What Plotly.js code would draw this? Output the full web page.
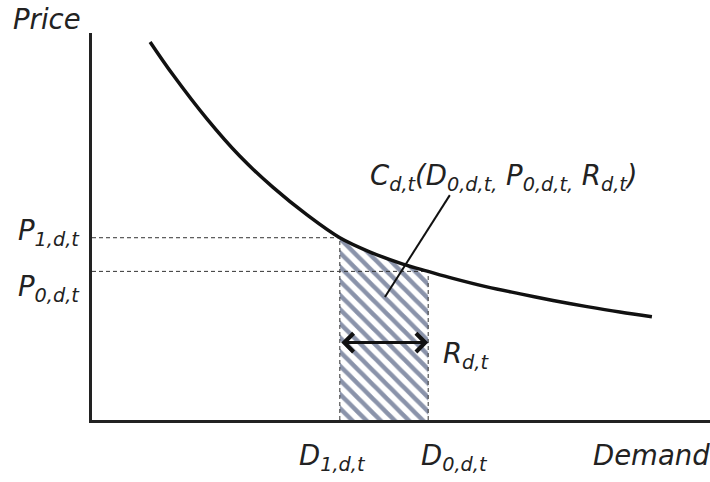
<!DOCTYPE html>
<html>
<head>
<meta charset="utf-8">
<script src="https://cdn.plot.ly/plotly-3.0.1.min.js"></script>
<style>
  html, body { margin: 0; padding: 0; background: #fff; }
  #chart { width: 710px; height: 482px; }
</style>
</head>
<body>
<div id="chart"></div>
<script>
// demand curve (demand 0-100, price 0-100)
const demand = [9.4, 13.1, 18.6, 23.9, 29.3, 34.8, 40.1, 45.0, 50.3, 54.4, 58.4, 63.9, 69.3, 74.6, 80.1, 85.4, 90.6];
const price  = [97.7, 89.2, 77.8, 68.2, 60.1, 53.0, 47.1, 43.4, 40.3, 38.4, 36.6, 34.4, 32.6, 30.9, 29.3, 27.9, 26.7];

// the two points on the curve
const D1 = 40.1, P1 = 47.1;
const D0 = 54.4, P0 = 38.4;
const arrowY = 20;

// leader line from the cost label into the hatched area
const leaderX = [57.9, 47.4];
const leaderY = [58.1, 31.8];

// hatched region under the curve between D1 and D0
const regX = [D1], regY = [0];
demand.forEach((d, i) => {
  if (d >= D1 && d <= D0) { regX.push(d); regY.push(price[i]); }
});
regX.push(D0); regY.push(0);

const dashStyle = { color: '#333', width: 1, dash: '4px,3px' };

const traces = [
  {
    x: regX, y: regY, type: 'scatter', mode: 'lines',
    fill: 'toself', fillcolor: 'white',
    fillpattern: { shape: '\\', fgcolor: '#8a93aa', bgcolor: 'white', size: 10, solidity: 0.45 },
    line: { width: 0 }, hoverinfo: 'skip'
  },
  { x: [0, D1], y: [P1, P1], type: 'scatter', mode: 'lines', line: dashStyle },
  { x: [0, D0], y: [P0, P0], type: 'scatter', mode: 'lines', line: dashStyle },
  { x: [D1, D1], y: [0, P1], type: 'scatter', mode: 'lines', line: dashStyle },
  { x: [D0, D0], y: [0, P0], type: 'scatter', mode: 'lines', line: dashStyle },
  {
    x: demand, y: price, type: 'scatter', mode: 'lines',
    line: { color: '#111', width: 3.5, shape: 'spline', smoothing: 1 }
  },
  { x: leaderX, y: leaderY, type: 'scatter', mode: 'lines', line: { color: '#111', width: 2 } }
];

// pixel helpers for labels placed outside the plot area
const px = v => (v - 92) / 618;
const py = v => (420 - v) / 387;
const txtFont = { family: 'DejaVu Sans', size: 27.5, color: '#222', style: 'italic' };

function label(text, x, y, xanchor) {
  return {
    xref: 'paper', yref: 'paper', x: px(x), y: py(y),
    xanchor: xanchor, yanchor: 'middle', text: text, showarrow: false, font: txtFont
  };
}

const annotations = [
  label('Price', 11, 19, 'left'),
  label('Demand', 591, 455, 'left'),
  label('P<sub>1,d,t</sub>', 82, 232, 'right'),
  label('P<sub>0,d,t</sub>', 82, 288, 'right'),
  label('D<sub>1,d,t</sub>', 297, 457, 'left'),
  label('D<sub>0,d,t</sub>', 419, 457, 'left'),
  label('R<sub>d,t</sub>', 441, 355, 'left'),
  label('C<sub>d,t</sub>(D<sub>0,d,t,</sub> P<sub>0,d,t,</sub> R<sub>d,t</sub>)', 368, 178, 'left'),
  {
    x: D0, y: arrowY, ax: D1, ay: arrowY, xref: 'x', yref: 'y', axref: 'x', ayref: 'y',
    text: '', showarrow: true, arrowside: 'end+start', arrowhead: 4,
    arrowsize: 1.2, arrowwidth: 3, arrowcolor: '#111', standoff: 0, startstandoff: 0
  }
];

const axisStyle = {
  range: [0, 100], showline: true, linewidth: 3, linecolor: '#222',
  showgrid: false, zeroline: false, showticklabels: false, ticks: '', fixedrange: true
};

Plotly.newPlot('chart', traces, {
  width: 710, height: 482,
  margin: { l: 92, r: 0, t: 33, b: 62 },
  paper_bgcolor: '#fff', plot_bgcolor: '#fff',
  showlegend: false,
  xaxis: axisStyle,
  yaxis: axisStyle,
  annotations: annotations
}, { displayModeBar: false, staticPlot: true });
</script>
</body>
</html>
